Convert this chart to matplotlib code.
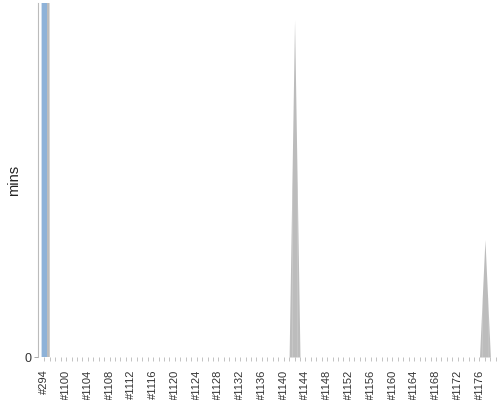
import matplotlib
matplotlib.use("Agg")
import matplotlib.pyplot as plt

plt.rcParams['font.family'] = ['Liberation Sans', 'DejaVu Sans']

# build labels, duration (mins) and result of each build
builds = ["#294"] + ["#%d" % n for n in range(1097, 1180)]
durations = [
    12.0, 0, 0, 0, 0, 0, 0, 0, 0, 0,
    0, 0, 0, 0, 0, 0, 0, 0, 0, 0,
    0, 0, 0, 0, 0, 0, 0, 0, 0, 0,
    0, 0, 0, 0, 0, 0, 0, 0, 0, 0,
    0, 0, 0, 0, 0, 0, 0.477, 0, 0, 0,
    0, 0, 0, 0, 0, 0, 0, 0, 0, 0,
    0, 0, 0, 0, 0, 0, 0, 0, 0, 0,
    0, 0, 0, 0, 0, 0, 0, 0, 0, 0,
    0, 0.166, 0, 0,
]
results = ["SUCCESS"] + ["ABORTED"] * 83
result_colors = {"SUCCESS": "#729fcf", "ABORTED": "#ababab"}
y_max = 0.5

fig = plt.figure(figsize=(5, 4), dpi=100)
ax = fig.add_axes([38 / 500, 43 / 400, 462 / 500, 353.5 / 400])

n = len(durations)
# each build colours its own slice of the area (half way to its neighbours)
for i in range(n):
    v = durations[i]
    left = (durations[i - 1] + v) / 2 if i > 0 else v
    right = (durations[i + 1] + v) / 2 if i < n - 1 else v
    ax.fill_between([i - 0.5, i, i + 0.5], [left, v, right],
                    color=result_colors[results[i]], alpha=0.8, linewidth=0)

ax.set_xlim(-1.16, 83.77)
ax.set_ylim(0, y_max)

ax.set_xticks(range(n))
ax.set_xticklabels([b if i % 4 == 0 else "" for i, b in enumerate(builds)],
                   rotation=90, fontsize=8, color="#333333")
ax.set_yticks([0])
ax.set_yticklabels(["0"], fontsize=9, color="#333333")
ax.tick_params(axis="x", length=3, width=0.5, color="#aaaaaa", pad=6)
ax.tick_params(axis="y", length=3, width=0.6, color="#999999", pad=2)

for s in ["top", "right"]:
    ax.spines[s].set_visible(False)
ax.spines["left"].set_color("#bbbbbb")
ax.spines["bottom"].set_visible(False)
ax.spines["left"].set_linewidth(0.8)

ax.set_ylabel("mins", fontsize=10.5, color="#222222")
ax.yaxis.set_label_coords(-0.037, 0.5)

fig.savefig("out.png", dpi=100)
